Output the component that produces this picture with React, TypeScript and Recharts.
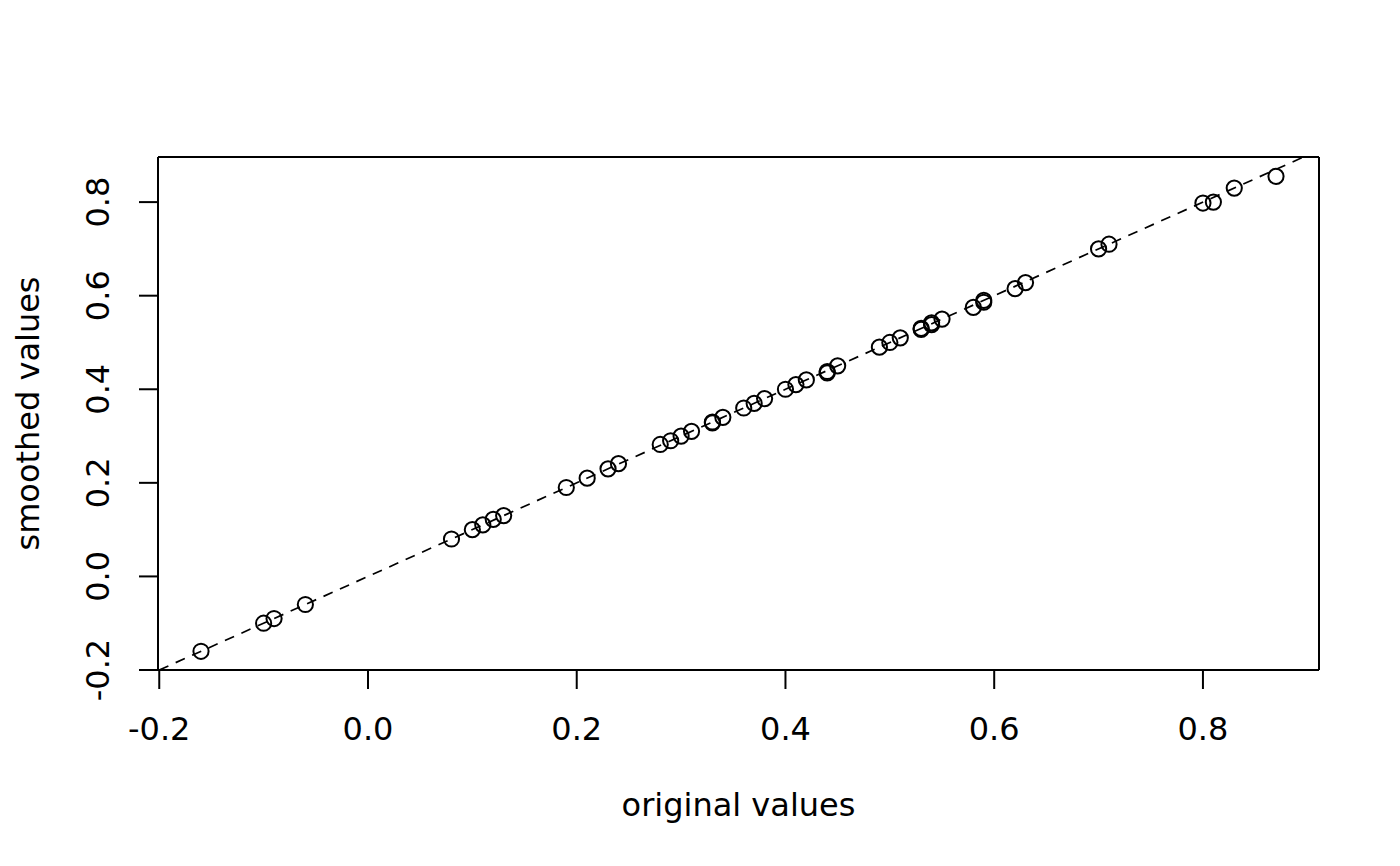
import React from "react";
import {
  ScatterChart,
  Scatter,
  XAxis,
  YAxis,
  ReferenceLine,
  Label,
} from "recharts";

const originalValues = [
  -0.16, -0.1, -0.09, -0.06, 0.08, 0.1, 0.11, 0.12, 0.13, 0.19, 0.21, 0.23, 0.24,
  0.28, 0.29, 0.3, 0.31, 0.33, 0.33, 0.34, 0.36, 0.37, 0.38, 0.4, 0.41, 0.42,
  0.44, 0.44, 0.45, 0.49, 0.5, 0.51, 0.53, 0.53, 0.54, 0.54, 0.55, 0.58, 0.59,
  0.59, 0.62, 0.63, 0.7, 0.71, 0.8, 0.81, 0.83, 0.87,
];
const smoothedValues = [
  -0.16, -0.1, -0.09, -0.06, 0.08, 0.1, 0.11, 0.122, 0.13, 0.19, 0.21, 0.23,
  0.241, 0.282, 0.29, 0.3, 0.31, 0.328, 0.33, 0.34, 0.36, 0.37, 0.38, 0.4, 0.41,
  0.42, 0.435, 0.438, 0.45, 0.49, 0.5, 0.51, 0.528, 0.53, 0.538, 0.542, 0.55,
  0.575, 0.586, 0.59, 0.615, 0.628, 0.7, 0.71, 0.798, 0.8, 0.83, 0.855,
];
const xTicks = [-0.2, 0, 0.2, 0.4, 0.6, 0.8];
const yTicks = [-0.2, 0, 0.2, 0.4, 0.6, 0.8];
const xDomain = [-0.2012, 0.9112];
const yDomain = [-0.2, 0.8964];
const identityLine = [
  { x: -0.2, y: -0.2 },
  { x: 0.9, y: 0.9 },
];
const xTitle = "original values";
const yTitle = "smoothed values";

const points = originalValues.map((x, i) => ({ x, y: smoothedValues[i] }));

const FONT = "'DejaVu Sans', sans-serif";
const FS = 32;

const fmt = (v: number) => v.toFixed(1);

const XTick = (props: any) => {
  const { x, y, payload } = props;
  return (
    <text
      x={x}
      y={y + 40}
      textAnchor="middle"
      dominantBaseline="central"
      fontFamily={FONT}
      fontSize={FS}
      fill="#000"
    >
      {fmt(payload.value)}
    </text>
  );
};

const YTick = (props: any) => {
  const { x, y, payload } = props;
  const cx = x - 41;
  return (
    <text
      x={cx}
      y={y}
      transform={`rotate(-90 ${cx} ${y})`}
      textAnchor="middle"
      dominantBaseline="central"
      fontFamily={FONT}
      fontSize={FS}
      fill="#000"
    >
      {fmt(payload.value)}
    </text>
  );
};

const Circle = (props: any) => {
  const { cx, cy } = props;
  if (cx == null || cy == null) return null;
  return <circle cx={cx} cy={cy} r={7.6} fill="none" stroke="#000" strokeWidth={2} />;
};

export default function App() {
  return (
    <div style={{ position: "absolute", left: 0, top: 0, width: 1400, height: 866, background: "#fff" }}>
      <ScatterChart
        width={1400}
        height={866}
        margin={{ top: 157, right: 81, bottom: 96, left: 58 }}
      >
        <XAxis
          type="number"
          dataKey="x"
          domain={xDomain}
          ticks={xTicks}
          allowDataOverflow
          height={100}
          tickSize={19}
          tickMargin={0}
          tick={<XTick />}
          axisLine={{ stroke: "#000", strokeWidth: 2 }}
          tickLine={{ stroke: "#000", strokeWidth: 2 }}
        >
          <Label
            content={(p: any) => {
              const vb = p.viewBox;
              return (
                <text
                  x={vb.x + vb.width / 2}
                  y={vb.y + 135}
                  textAnchor="middle"
                  dominantBaseline="central"
                  fontFamily={FONT}
                  fontSize={FS}
                  fill="#000"
                >
                  {xTitle}
                </text>
              );
            }}
          />
        </XAxis>
        <YAxis
          type="number"
          dataKey="y"
          domain={yDomain}
          ticks={yTicks}
          allowDataOverflow
          width={100}
          tickSize={19}
          tickMargin={0}
          tick={<YTick />}
          axisLine={{ stroke: "#000", strokeWidth: 2 }}
          tickLine={{ stroke: "#000", strokeWidth: 2 }}
        >
          <Label
            content={(p: any) => {
              const vb = p.viewBox;
              const cx = 28;
              const cy = vb.y + vb.height / 2;
              return (
                <text
                  x={cx}
                  y={cy}
                  transform={`rotate(-90 ${cx} ${cy})`}
                  textAnchor="middle"
                  dominantBaseline="central"
                  fontFamily={FONT}
                  fontSize={FS}
                  fill="#000"
                >
                  {yTitle}
                </text>
              );
            }}
          />
        </YAxis>
        <ReferenceLine y={yDomain[1]} stroke="#000" strokeWidth={2} ifOverflow="visible" />
        <ReferenceLine x={xDomain[1]} stroke="#000" strokeWidth={2} ifOverflow="visible" />
        <ReferenceLine
          segment={identityLine}
          stroke="#000"
          strokeWidth={1.7}
          strokeDasharray="10 8"
          ifOverflow="hidden"
        />
        <Scatter data={points} shape={<Circle />} isAnimationActive={false} />
      </ScatterChart>
    </div>
  );
}
